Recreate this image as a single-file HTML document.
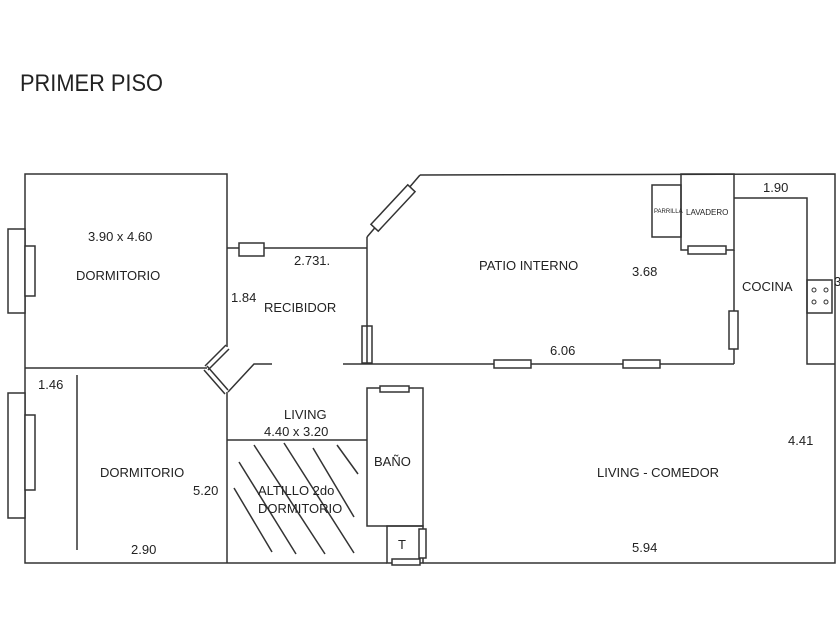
<!DOCTYPE html>
<html><head><meta charset="utf-8"><style>
html,body{margin:0;padding:0;background:#fff;}
svg{display:block;}
text{font-family:"Liberation Sans",sans-serif;fill:#222;}
</style></head><body>
<svg width="840" height="630" viewBox="0 0 840 630" xmlns="http://www.w3.org/2000/svg">
<rect width="840" height="630" fill="#fff"/>
<text x="20" y="91" font-size="24" textLength="143" lengthAdjust="spacingAndGlyphs">PRIMER PISO</text>
<g stroke="#333" stroke-width="1.5" fill="none">
<polyline points="227,347 227,174 25,174 25,563 387,563"/>
<line x1="25" y1="368" x2="207" y2="368"/>
<line x1="227" y1="248" x2="367" y2="248"/>
<line x1="367" y1="237" x2="367" y2="364"/>
<line x1="367" y1="237" x2="420" y2="175"/>
<polyline points="420,175 835,174 835,563 423,563"/>
<line x1="226" y1="345" x2="205" y2="366"/><line x1="229" y1="349" x2="208" y2="370"/>
<line x1="207" y1="366" x2="228" y2="390"/><line x1="204" y1="370" x2="225" y2="394"/>
<polyline points="228,392 254,364 272,364"/>
<line x1="227" y1="392" x2="227" y2="563"/>
<line x1="343" y1="364" x2="734" y2="364"/>
<rect x="681" y="174" width="53" height="76"/>
<rect x="652" y="185" width="29" height="52"/>
<line x1="734" y1="250" x2="734" y2="364"/>
<polyline points="734,198 807,198 807,364 835,364"/>
<rect x="807" y="280" width="25" height="33"/>
<rect x="8" y="229" width="17" height="84" fill="#fff"/>
<rect x="25" y="246" width="10" height="50" fill="#fff"/>
<rect x="8" y="393" width="17" height="125" fill="#fff"/>
<rect x="25" y="415" width="10" height="75" fill="#fff"/>
<rect x="239" y="243" width="25" height="13" fill="#fff"/>
<rect x="362" y="326" width="10" height="37" fill="#fff"/>
<line x1="367" y1="326" x2="367" y2="363"/>
<rect x="688" y="246" width="38" height="8" fill="#fff"/>
<rect x="729" y="311" width="9" height="38" fill="#fff"/>
<rect x="494" y="360" width="37" height="8" fill="#fff"/>
<rect x="623" y="360" width="37" height="8" fill="#fff"/>
<g transform="translate(393,208) rotate(-47)"><rect x="-27" y="-5" width="54" height="10" fill="#fff"/></g>
<line x1="77" y1="375" x2="77" y2="550"/>
<line x1="227" y1="440" x2="367" y2="440"/>
<rect x="367" y="388" width="56" height="138"/>
<rect x="380" y="386" width="29" height="6" fill="#fff"/>
<rect x="387" y="526" width="36" height="37"/>
<rect x="419" y="529" width="7" height="29" fill="#fff"/>
<rect x="392" y="559" width="28" height="6" fill="#fff"/>
<line x1="234" y1="488" x2="272" y2="552"/>
<line x1="239" y1="462" x2="296" y2="554"/>
<line x1="254" y1="445" x2="325" y2="554"/>
<line x1="284" y1="443" x2="354" y2="553"/>
<line x1="313" y1="448" x2="354" y2="517"/>
<line x1="337" y1="445" x2="358" y2="474"/>
</g>
<g fill="#fff" stroke="#333" stroke-width="1">
<circle cx="814" cy="290" r="2"/><circle cx="826" cy="290" r="2"/>
<circle cx="814" cy="302" r="2"/><circle cx="826" cy="302" r="2"/>
</g>
<g font-size="13">
<text x="88" y="241">3.90 x 4.60</text>
<text x="76" y="280">DORMITORIO</text>
<text x="294" y="265">2.731.</text>
<text x="231" y="302">1.84</text>
<text x="264" y="312">RECIBIDOR</text>
<text x="479" y="270">PATIO INTERNO</text>
<text x="632" y="276">3.68</text>
<text x="763" y="192">1.90</text>
<text x="742" y="291">COCINA</text>
<text x="834" y="286">3</text>
<text x="550" y="355">6.06</text>
<text x="38" y="389">1.46</text>
<text x="284" y="419">LIVING</text>
<text x="264" y="436">4.40 x 3.20</text>
<text x="374" y="466">BAÑO</text>
<text x="100" y="477">DORMITORIO</text>
<text x="193" y="495">5.20</text>
<text x="258" y="495">ALTILLO 2do</text>
<text x="258" y="513">DORMITORIO</text>
<text x="131" y="554">2.90</text>
<text x="398" y="549">T</text>
<text x="632" y="552">5.94</text>
<text x="597" y="477">LIVING - COMEDOR</text>
<text x="788" y="445">4.41</text>
</g>
<text x="654" y="213" font-size="6">PARRILLA</text>
<text x="686" y="215" font-size="8">LAVADERO</text>
</svg>
</body></html>
